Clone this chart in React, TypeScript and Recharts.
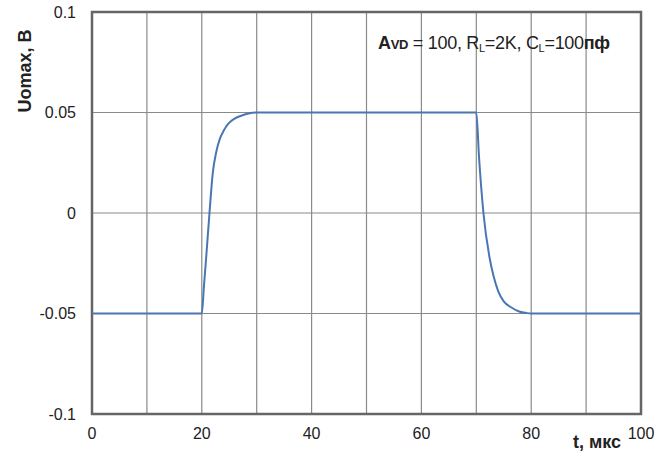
import { LineChart, Line, XAxis, YAxis, CartesianGrid, ReferenceArea } from 'recharts';

// time, us
const tValues = [0, 20, 20.4, 20.8, 21.4, 22.0, 22.6, 23.3, 24.0, 24.8, 26.0, 27.3, 28.5, 30, 70, 70.5, 71.3, 72.4, 73.2, 74.0, 75.0, 76.4, 77.8, 79.2, 80, 100];
// output voltage, V
const uValues = [-0.05, -0.05, -0.036, -0.022, 0, 0.02, 0.03, 0.037, 0.041, 0.0443, 0.047, 0.0485, 0.0495, 0.05, 0.05, 0.0276, 0, -0.022, -0.032, -0.039, -0.044, -0.047, -0.049, -0.0498, -0.05, -0.05];

const xTicks = [0, 10, 20, 30, 40, 50, 60, 70, 80, 90, 100];
const yTicks = [-0.1, -0.05, 0, 0.05, 0.1];

const data = tValues.map((t, i) => ({ t, u: uValues[i] }));

const FONT = '"Liberation Sans", Arial, sans-serif';

const App = () => {
  return (
    <div style={{ position: 'absolute', left: 0, top: 0, width: 672, height: 454, background: '#fff', fontFamily: FONT }}>
      <LineChart width={672} height={454} data={data} margin={{ top: 12, right: 31, left: 0, bottom: 0 }}>
        <CartesianGrid stroke="#8a8a8a" strokeWidth={1.2} />
        <XAxis
          dataKey="t"
          type="number"
          domain={[0, 100]}
          ticks={xTicks}
          tickFormatter={(v) => (v % 20 === 0 ? String(v) : '')}
          tickLine={false}
          axisLine={false}
          tickSize={0}
          tickMargin={14}
          height={40}
          interval={0}
          tick={{ fontSize: 16, fill: '#222', fontFamily: FONT }}
        />
        <YAxis
          type="number"
          domain={[-0.1, 0.1]}
          ticks={yTicks}
          tickLine={false}
          axisLine={false}
          tickSize={0}
          tickMargin={16}
          width={92}
          interval={0}
          tick={{ fontSize: 16, fill: '#222', fontFamily: FONT }}
        />
        <ReferenceArea x1={0} x2={100} y1={-0.1} y2={0.1} fill="none" stroke="#666" strokeWidth={2.5} />
        <Line type="monotone" dataKey="u" stroke="#4a76b4" strokeWidth={2} dot={false} isAnimationActive={false} />
      </LineChart>

      <div style={{ position: 'absolute', left: 25, top: 71, transform: 'translate(-50%, -50%) rotate(-90deg)', fontSize: 18, fontWeight: 'bold', color: '#222', whiteSpace: 'nowrap' }}>
        Uomax, B
      </div>

      <div style={{ position: 'absolute', left: 573, top: 432, fontSize: 18, fontWeight: 'bold', color: '#222', whiteSpace: 'nowrap', lineHeight: '20px' }}>
        t, мкс
      </div>

      <div style={{ position: 'absolute', left: 378, top: 33, fontSize: 18, color: '#222', whiteSpace: 'nowrap', lineHeight: '20px', letterSpacing: -0.3 }}>
        <b>A</b>
        <b style={{ fontSize: 13 }}>VD</b> = 100, R<sub style={{ fontSize: 11, verticalAlign: '-3px' }}>L</sub>=2K, C
        <sub style={{ fontSize: 11, verticalAlign: '-3px' }}>L</sub>=100<b>пф</b>
      </div>
    </div>
  );
};

export default App;
